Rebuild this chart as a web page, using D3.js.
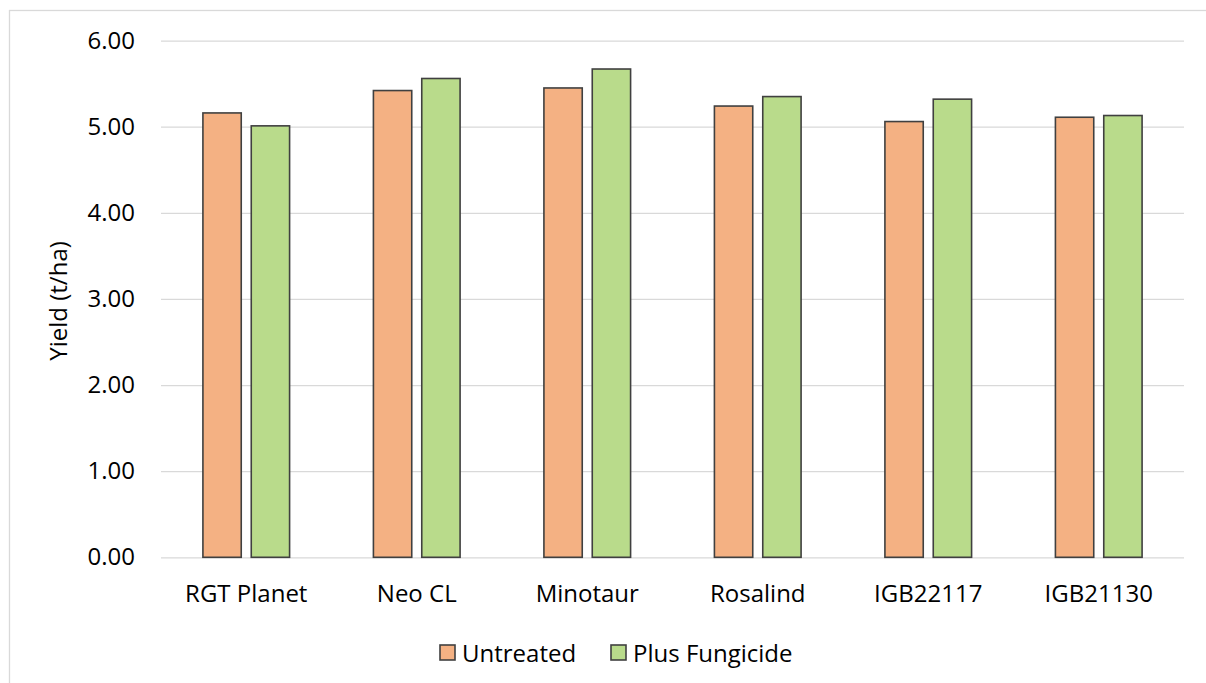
<!DOCTYPE html>
<html>
<head>
<meta charset="utf-8">
<script src="https://cdn.jsdelivr.net/npm/d3@7"></script>
<style>
  html, body { margin: 0; padding: 0; background: #fff; }
  svg { display: block; }
  text { font-family: "Open Sans", "Noto Sans", sans-serif; fill: #000; }
</style>
</head>
<body>
<svg id="chart" width="1206" height="683"></svg>
<script>
const categories = ["RGT Planet", "Neo CL", "Minotaur", "Rosalind", "IGB22117", "IGB21130"];
const seriesNames = ["Untreated", "Plus Fungicide"];
const untreated = [5.16, 5.42, 5.45, 5.24, 5.06, 5.11];
const plusFungicide = [5.01, 5.56, 5.67, 5.35, 5.32, 5.13];
const yTicks = [0, 1, 2, 3, 4, 5, 6];
const colors = ["#F4B183", "#B9DB8B"];

const seriesValues = [untreated, plusFungicide];
const svg = d3.select("#chart");
const FS = 24;

// chart border
svg.append("rect")
  .attr("x", 9.5).attr("y", 10.5)
  .attr("width", 1220).attr("height", 700)
  .attr("fill", "none").attr("stroke", "#d9d9d9").attr("stroke-width", 1.3);

const plot = { left: 161, right: 1184, top: 40.6, bottom: 557.3 };

const y = d3.scaleLinear().domain([0, 6]).range([plot.bottom, plot.top]);
const x0 = d3.scaleBand().domain(categories).range([plot.left, plot.right]).paddingInner(0).paddingOuter(0);
const x1 = d3.scaleBand().domain(seriesNames).range([0, x0.bandwidth()]).paddingInner(0.207).paddingOuter(0.867);

// gridlines
const yAxis = d3.axisLeft(y).tickValues(yTicks).tickFormat(d3.format(".2f"))
  .tickSize(-(plot.right - plot.left)).tickPadding(26);
const gy = svg.append("g").attr("transform", `translate(${plot.left},0)`).call(yAxis);
gy.select(".domain").remove();
gy.selectAll(".tick line").attr("stroke", "#d9d9d9").attr("stroke-width", 1.3);
gy.selectAll(".tick text").attr("font-size", FS).attr("fill", "#000")
  .attr("font-family", "'Open Sans', sans-serif");

// bars
const groups = svg.append("g").selectAll("g")
  .data(categories).join("g")
  .attr("transform", d => `translate(${x0(d)},0)`);

groups.selectAll("rect")
  .data((d, i) => seriesNames.map((s, j) => ({ s, j, v: seriesValues[j][i] })))
  .join("rect")
  .attr("x", d => x1(d.s))
  .attr("y", d => y(d.v))
  .attr("width", x1.bandwidth())
  .attr("height", d => y(0) - y(d.v))
  .attr("fill", d => colors[d.j])
  .attr("stroke", "#404040")
  .attr("stroke-width", 1.6);

// x axis labels
const xAxis = d3.axisBottom(x0).tickSize(0).tickPadding(28);
const gx = svg.append("g").attr("transform", `translate(0,${plot.bottom})`).call(xAxis);
gx.select(".domain").remove();
gx.selectAll(".tick text").attr("font-size", FS).attr("fill", "#000")
  .attr("font-family", "'Open Sans', sans-serif");

// y-axis title
svg.append("text")
  .attr("transform", `translate(57,${(plot.top + plot.bottom) / 2 + 2}) rotate(-90)`)
  .attr("text-anchor", "middle")
  .attr("dominant-baseline", "central")
  .attr("font-size", FS)
  .text("Yield (t/ha)");

// legend
const legend = svg.append("g");
const legendItems = [
  { name: seriesNames[0], color: colors[0], x: 440 },
  { name: seriesNames[1], color: colors[1], x: 611 }
];
legendItems.forEach(item => {
  legend.append("rect")
    .attr("x", item.x).attr("y", 645)
    .attr("width", 15).attr("height", 15)
    .attr("fill", item.color).attr("stroke", "#404040").attr("stroke-width", 1.6);
  legend.append("text")
    .attr("x", item.x + 22).attr("y", 652.5)
    .attr("dominant-baseline", "central")
    .attr("font-size", FS)
    .text(item.name);
});
</script>
</body>
</html>
